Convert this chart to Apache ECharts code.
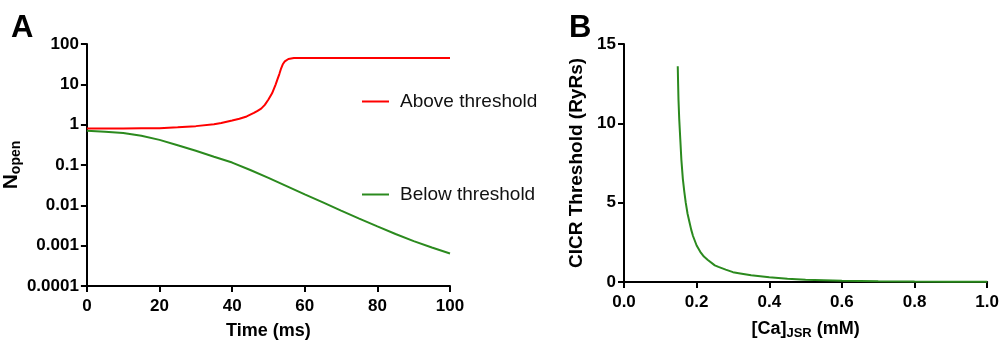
<!DOCTYPE html>
<html>
<head>
    <meta charset="UTF-8">
    <title>CICR threshold</title>
    <script src="https://cdn.jsdelivr.net/npm/echarts@6/dist/echarts.min.js"></script>
    <style>
        body { margin: 0; background: #fff; }
    </style>
</head>
<body>
    <div id="fig" style="width:1002px; height:345px;"></div>
    <script>
        // panel A: number of open RyRs vs time (log scale)
        var aboveTime = [0, 5, 10, 15, 20, 25, 30, 35, 37, 40, 42, 44, 46, 47, 48, 49, 50, 51, 52, 52.5, 53, 53.5, 54, 54.5, 55, 55.5, 56, 57, 58, 60, 70, 80, 90, 100];
        var aboveVals = [0.80, 0.80, 0.80, 0.81, 0.82, 0.86, 0.92, 1.02, 1.1, 1.27, 1.4, 1.6, 1.95, 2.2, 2.5, 3.1, 4.2, 6.0, 10, 13.5, 18, 25, 32, 37, 40, 42.5, 44, 45, 45, 45, 45, 45, 45, 45];
        var belowTime = [0, 5, 10, 15, 20, 25, 30, 35, 40, 45, 50, 55, 60, 65, 70, 75, 80, 85, 90, 95, 100];
        var belowVals = [0.71, 0.67, 0.62, 0.53, 0.42, 0.31, 0.225, 0.16, 0.115, 0.075, 0.048, 0.03, 0.0187, 0.0118, 0.0074, 0.0047, 0.003, 0.00195, 0.0013, 0.0009, 0.00064];

        // panel B: threshold vs [Ca]JSR
        var caJsr = [0.148, 0.149, 0.150, 0.152, 0.155, 0.158, 0.162, 0.166, 0.170, 0.175, 0.180, 0.185, 0.190, 0.200, 0.210, 0.220, 0.230, 0.250, 0.260, 0.280, 0.300, 0.320, 0.350, 0.400, 0.450, 0.500, 0.600, 0.700, 0.800, 0.900, 1.000];
        var threshold = [13.6, 12.5, 11.5, 10.3, 9.0, 7.7, 6.5, 5.7, 5.0, 4.3, 3.8, 3.3, 2.9, 2.3, 1.9, 1.6, 1.4, 1.05, 0.95, 0.78, 0.62, 0.54, 0.42, 0.30, 0.20, 0.14, 0.08, 0.05, 0.03, 0.02, 0.01];

        var logTicks = ['0.0001', '0.001', '0.01', '0.1', '1', '10', '100'];

        function pairs(xs, ys) {
            return xs.map(function (x, i) { return [x, ys[i]]; });
        }

        var FONT = 'Arial, "Liberation Sans", sans-serif';
        var RED = '#ff0000';
        var GREEN = '#2b8a1e';

        var labelX = { color: '#000', fontSize: 17, fontWeight: 'bold', fontFamily: FONT, margin: 12 };
        var labelY = { color: '#000', fontSize: 17, fontWeight: 'bold', fontFamily: FONT, margin: 8 };

        var axisCommon = {
            axisLine: { show: true, onZero: false, lineStyle: { color: '#000', width: 2 } },
            axisTick: { show: true, length: 6, lineStyle: { color: '#000', width: 2 } },
            splitLine: { show: false },
            nameLocation: 'middle',
            nameTextStyle: { color: '#000', fontSize: 18, fontWeight: 'bold', fontFamily: FONT }
        };

        function ax(extra) {
            return Object.assign({}, JSON.parse(JSON.stringify(axisCommon)), extra);
        }

        var chart = echarts.init(document.getElementById('fig'), null, { renderer: 'canvas' });

        chart.setOption({
            animation: false,
            backgroundColor: '#fff',
            title: [
                { text: 'A', left: 6, top: 8, textStyle: { fontSize: 31, fontWeight: 'bold', color: '#000', fontFamily: FONT } },
                { text: 'B', left: 564, top: 8, textStyle: { fontSize: 31, fontWeight: 'bold', color: '#000', fontFamily: FONT } }
            ],
            legend: [
                {
                    data: ['Above threshold'], left: 357, top: 87, itemWidth: 27, itemHeight: 2,
                    icon: 'rect', textStyle: { fontSize: 19, color: '#111', fontFamily: FONT, padding: [0, 0, 0, 6] }
                },
                {
                    data: ['Below threshold'], left: 357, top: 180, itemWidth: 27, itemHeight: 2,
                    icon: 'rect', textStyle: { fontSize: 19, color: '#111', fontFamily: FONT, padding: [0, 0, 0, 6] }
                }
            ],
            grid: [
                { left: 86, top: 44, width: 364, height: 243 },
                { left: 624, top: 44, width: 364, height: 243 }
            ],
            xAxis: [
                ax({ gridIndex: 0, type: 'value', min: 0, max: 100, interval: 20, name: 'Time (ms)', nameGap: 36,
                    axisLabel: labelX }),
                ax({
                    gridIndex: 1, type: 'value', min: 0, max: 1, interval: 0.2, nameGap: 36,
                    name: '{a|[Ca]}{b|JSR}{a| (mM)}',
                    axisLabel: Object.assign({}, labelX, { formatter: function (v) { return v.toFixed(1); } }),
                    nameTextStyle: {
                        rich: {
                            a: { color: '#000', fontSize: 18, fontWeight: 'bold', fontFamily: FONT },
                            b: { color: '#000', fontSize: 13, fontWeight: 'bold', fontFamily: FONT, padding: [9, 0, 0, 0] }
                        }
                    }
                })
            ],
            yAxis: [
                ax({
                    gridIndex: 0, type: 'log', logBase: 10, min: 0.0001, max: 100, nameGap: 50,
                    name: '{a|N}{b|open}',
                    axisLabel: Object.assign({}, labelY, {
                        formatter: function (v) {
                            var e = Math.round(Math.log10(v));
                            return logTicks[e + 4];
                        } }),
                    nameTextStyle: {
                        rich: {
                            a: { color: '#000', fontSize: 21, fontWeight: 'bold', fontFamily: FONT },
                            b: { color: '#000', fontSize: 14, fontWeight: 'bold', fontFamily: FONT, padding: [9, 0, 0, 0] }
                        }
                    }
                }),
                ax({ gridIndex: 1, type: 'value', min: 0, max: 15, interval: 5, name: 'CICR Threshold (RyRs)', nameGap: 38,
                    axisLabel: labelY,
                    nameTextStyle: { color: '#000', fontSize: 19, fontWeight: 'bold', fontFamily: FONT } })
            ],
            series: [
                {
                    name: 'Above threshold', type: 'line', xAxisIndex: 0, yAxisIndex: 0,
                    data: pairs(aboveTime, aboveVals), showSymbol: false, symbol: 'none',
                    lineStyle: { color: RED, width: 2 }, itemStyle: { color: RED }
                },
                {
                    name: 'Below threshold', type: 'line', xAxisIndex: 0, yAxisIndex: 0,
                    data: pairs(belowTime, belowVals), showSymbol: false, symbol: 'none',
                    lineStyle: { color: GREEN, width: 2 }, itemStyle: { color: GREEN }
                },
                {
                    name: 'threshold', type: 'line', xAxisIndex: 1, yAxisIndex: 1,
                    data: pairs(caJsr, threshold), showSymbol: false, symbol: 'none',
                    lineStyle: { color: GREEN, width: 2 }, itemStyle: { color: GREEN }
                }
            ]
        });
    </script>
</body>
</html>
